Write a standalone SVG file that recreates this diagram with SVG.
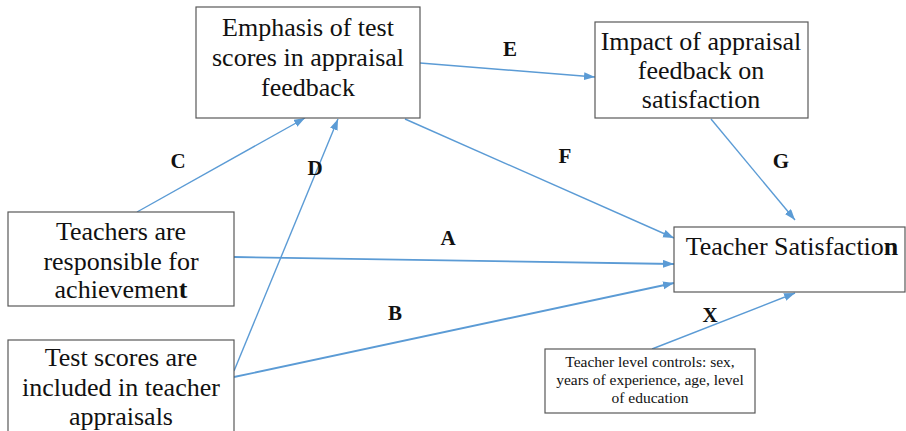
<svg xmlns="http://www.w3.org/2000/svg" width="906" height="431" viewBox="0 0 906 431">
<style>
.box{fill:#fff;stroke:#595959;stroke-width:1.2}
.t{font-family:"Liberation Serif","Times New Roman",serif;font-size:26px;fill:#111;text-anchor:middle}
.s{font-family:"Liberation Serif","Times New Roman",serif;font-size:15.5px;fill:#111;text-anchor:middle}
.lb{font-family:"Liberation Serif","Times New Roman",serif;font-size:21px;font-weight:bold;fill:#111;text-anchor:middle}
.c{stroke:#5B9BD5;stroke-width:1.4;fill:none;marker-end:url(#ah)}
</style>
<defs>
<marker id="ah" markerUnits="userSpaceOnUse" markerWidth="12" markerHeight="10" refX="11" refY="4" orient="auto">
<path d="M0,0 L11,4 L0,8 Z" fill="#5B9BD5"/>
</marker>
</defs>
<rect width="906" height="431" fill="#fff"/>
<g id="connectors">
<line class="c" x1="137" y1="212" x2="305" y2="118"/>
<line class="c" x1="234" y1="371" x2="338" y2="119"/>
<line class="c" x1="420" y1="63" x2="595" y2="77"/>
<line class="c" x1="405" y1="119" x2="674" y2="238"/>
<line class="c" x1="234" y1="257" x2="674" y2="264" style="stroke-width:1.8"/>
<line class="c" x1="234" y1="377" x2="674" y2="283" style="stroke-width:1.8"/>
<line class="c" x1="711" y1="119" x2="795" y2="220"/>
<line class="c" x1="652" y1="349" x2="795" y2="293"/>
<text class="lb" x="178" y="168">C</text>
<text class="lb" x="315" y="175">D</text>
<text class="lb" x="510" y="56">E</text>
<text class="lb" x="565" y="163">F</text>
<text class="lb" x="448" y="245">A</text>
<text class="lb" x="395" y="320">B</text>
<text class="lb" x="781" y="168">G</text>
<text class="lb" x="710" y="322">X</text>
</g>
<g id="emphasis">
<rect class="box" x="196" y="7" width="224" height="111"/>
<text class="t" x="308" y="36">Emphasis of test</text>
<text class="t" x="308" y="66">scores in appraisal</text>
<text class="t" x="308" y="96">feedback</text>
</g>
<g id="impact">
<rect class="box" x="595" y="22" width="213" height="96"/>
<text class="t" x="701" y="50">Impact of appraisal</text>
<text class="t" x="701" y="79">feedback on</text>
<text class="t" x="701" y="108">satisfaction</text>
</g>
<g id="responsible">
<rect class="box" x="8" y="212" width="226" height="94"/>
<text class="t" x="121" y="240">Teachers are</text>
<text class="t" x="121" y="270">responsible for</text>
<text class="t" x="121" y="298">achievemen<tspan font-weight="bold">t</tspan></text>
</g>
<g id="included">
<rect class="box" x="8" y="340" width="226" height="100"/>
<text class="t" x="121" y="366">Test scores are</text>
<text class="t" x="121" y="396">included in teacher</text>
<text class="t" x="121" y="425">appraisals</text>
</g>
<g id="satisfaction">
<rect class="box" x="674" y="227" width="231" height="65"/>
<text class="t" x="792" y="255">Teacher Satisfactio<tspan font-weight="bold">n</tspan></text>
</g>
<g id="controls">
<rect class="box" x="545" y="349" width="210" height="64"/>
<text class="s" x="650" y="367">Teacher level controls: sex,</text>
<text class="s" x="650" y="385">years of experience, age, level</text>
<text class="s" x="650" y="403">of education</text>
</g>
</svg>
